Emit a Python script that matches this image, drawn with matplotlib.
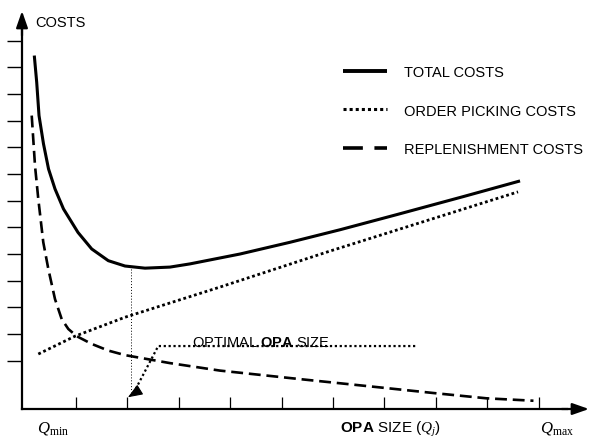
import numpy as np
import matplotlib
matplotlib.use("Agg")
import matplotlib.pyplot as plt
from matplotlib.lines import Line2D

plt.rcParams['font.family'] = ['Liberation Sans', 'DejaVu Sans']
plt.rcParams['mathtext.fontset'] = 'custom'
plt.rcParams['mathtext.rm'] = 'Liberation Sans'
plt.rcParams['mathtext.it'] = 'Liberation Serif:italic'
plt.rcParams['mathtext.bf'] = 'Liberation Sans:bold'
plt.rcParams['mathtext.sf'] = 'Liberation Serif'

# curves (x: OPA size, y: costs, arbitrary units)
total_x = [0.239, 0.286, 0.331, 0.418, 0.516, 0.642, 0.807, 1.089, 1.356, 1.679, 2.004,
           2.393, 2.879, 3.268, 4.241, 5.214, 6.187, 7.296, 8.580, 9.689]
total_y = [13.25, 12.25, 11.0, 9.94, 9.0, 8.25, 7.50, 6.62, 6.0, 5.56, 5.36,
           5.28, 5.32, 5.44, 5.81, 6.25, 6.72, 7.29, 7.96, 8.55]

picking_x = [0.317, 1.031, 2.004, 3.85, 5.99, 9.65]
picking_y = [2.06, 2.73, 3.44, 4.57, 5.92, 8.14]

repl_x = [0.189, 0.253, 0.317, 0.414, 0.512, 0.642, 0.772, 0.901, 1.064, 1.356, 1.679,
          2.004, 2.88, 3.85, 5.41, 6.96, 8.00, 9.04, 9.95]
repl_y = [11.0, 9.12, 7.87, 6.25, 5.25, 4.12, 3.37, 3.0, 2.73, 2.44, 2.19,
          2.02, 1.72, 1.44, 1.12, 0.81, 0.60, 0.40, 0.31]

# optimum marker and annotation path
opt_x = 2.12
opt_top = 5.25
opt_bottom = 0.65
note_x = [7.65, 2.65, 2.16]
note_y = [2.36, 2.36, 0.56]
arrow_tip = (2.06, 0.44)

x_ticks = 1.05 + np.arange(10)
y_ticks = 1.81 + np.arange(13)

fig = plt.figure(figsize=(5.9, 4.39), dpi=100)
ax = fig.add_axes([0, 0, 1, 1])
ax.set_xlim(-0.428, 11.05)
ax.set_ylim(-1.087, 15.37)

for s in ['top', 'right']:
    ax.spines[s].set_visible(False)
ax.spines['left'].set_position(('data', 0))
ax.spines['bottom'].set_position(('data', 0))
ax.spines['left'].set_bounds(0, 14.2)
ax.spines['bottom'].set_bounds(0, 10.6)
ax.spines['left'].set_linewidth(1.6)
ax.spines['bottom'].set_linewidth(1.6)
ax.set_xticks(x_ticks)
ax.set_yticks(y_ticks)
ax.set_xticklabels([])
ax.set_yticklabels([])
ax.tick_params(axis='x', direction='in', length=8.6, width=0.9)
ax.tick_params(axis='y', direction='out', length=10.8, width=1.0)

arr = dict(arrowstyle='-|>,head_length=1.0,head_width=0.35', color='black', lw=1.6,
           mutation_scale=10, shrinkA=0, shrinkB=0)
ax.annotate('', xy=(0, 14.92), xytext=(0, 14.0), arrowprops=arr)
ax.annotate('', xy=(11.03, 0), xytext=(10.5, 0), arrowprops=arr)

ax.plot(total_x, total_y, color='black', lw=2.2, solid_capstyle='butt', solid_joinstyle='round')
ax.plot(picking_x, picking_y, color='black', lw=2.0, linestyle=(0, (1, 1)))
ax.plot(repl_x, repl_y, color='black', lw=1.9, linestyle=(0, (4.5, 2.2)))

ax.plot([opt_x, opt_x], [opt_top, opt_bottom], color='black', lw=0.7, linestyle=(0, (1, 2)))
ax.plot(note_x, note_y, color='black', lw=1.6, linestyle=(0, (1, 1.2)))
ax.annotate('', xy=arrow_tip, xytext=(note_x[-1], note_y[-1]),
            arrowprops=dict(arrowstyle='-|>,head_length=0.9,head_width=0.35', color='black',
                            lw=0.8, mutation_scale=10, shrinkA=0, shrinkB=0))

ax.text(3.31, 2.36, r'OPTIMAL $\mathbf{OPA}$ SIZE', fontsize=10.5, va='baseline', ha='left')
ax.text(0.25, 14.51, 'COSTS', fontsize=10.5, va='center', ha='left')
ax.text(0.29, -0.86, r'$Q_{\mathsf{min}}$', fontsize=12, va='baseline', ha='left')
ax.text(10.08, -0.86, r'$Q_{\mathsf{max}}$', fontsize=12, va='baseline', ha='left')
ax.text(7.16, -0.86, r'$\mathbf{OPA}$ SIZE $(Q_j)$', fontsize=11, va='baseline', ha='center')

handles = [
    Line2D([], [], color='black', lw=2.8, solid_capstyle='butt'),
    Line2D([], [], color='black', lw=2.2, linestyle=(0, (1, 1))),
    Line2D([], [], color='black', lw=2.6, linestyle=(0, (5.5, 3.2))),
]
labels = ['TOTAL COSTS', 'ORDER PICKING COSTS', 'REPLENISHMENT COSTS']
ax.legend(handles, labels, loc='upper left', bbox_to_anchor=(343 / 590, 1 - 66 / 439),
          frameon=False, fontsize=10.5, handlelength=3.0, handletextpad=1.2,
          labelspacing=1.68, borderpad=0, borderaxespad=0)

fig.savefig('out.png', dpi=100)
